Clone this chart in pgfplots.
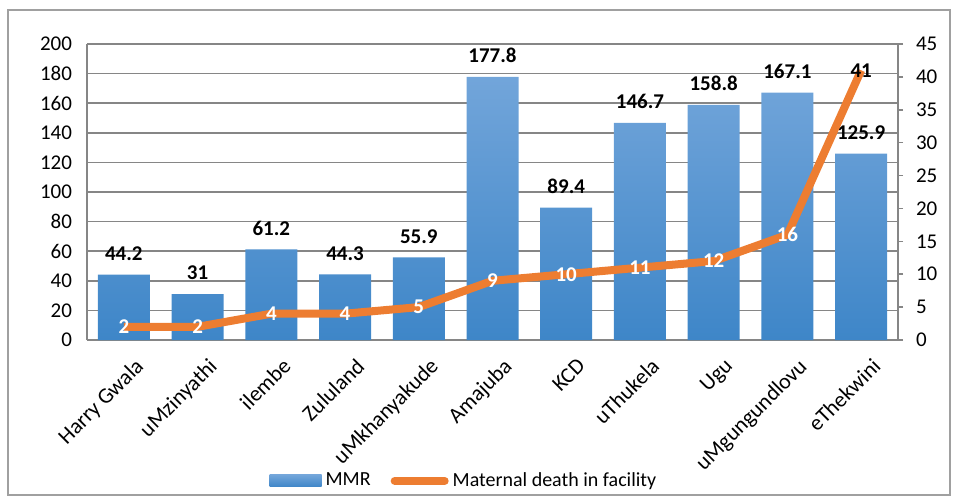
\documentclass[border=0pt]{standalone}
\usepackage{pgfplots}
\pgfplotsset{compat=1.18}
\usepackage{fontspec}
\setmainfont{Carlito}
\definecolor{barTop}{RGB}{114,165,218}
\definecolor{barBot}{RGB}{62,134,200}
\definecolor{lineOr}{RGB}{237,125,49}
\definecolor{gridc}{RGB}{134,134,134}
\definecolor{framec}{RGB}{160,160,160}

\pgfplotstableread{
idx mmr deaths
0 44.2 2
1 31 2
2 61.2 4
3 44.3 4
4 55.9 5
5 177.8 9
6 89.4 10
7 146.7 11
8 158.8 12
9 167.1 16
10 125.9 41
}\data

\begin{document}
\begin{tikzpicture}
  \path[use as bounding box] (0,0) rectangle (476.5pt,249pt);
  \draw[framec, line width=0.6pt] (4pt,1.5pt) rectangle (475pt,244pt);
  \begin{axis}[
    at={(43.5pt,79pt)}, anchor=south west, scale only axis,
    width=405.5pt, height=148pt,
    xmin=-0.5, xmax=10.5, ymin=0, ymax=200,
    ytick={0,20,...,200}, xtick={0,...,10},
    xticklabels={Harry Gwala,uMzinyathi,ilembe,Zululand,uMkhanyakude,Amajuba,KCD,uThukela,Ugu,uMgungundlovu,eThekwini},
    xticklabel style={rotate=45, anchor=north east, xshift=1pt, yshift=-6pt, font=\fontsize{11}{13}\selectfont},
    yticklabel style={xshift=-4pt, font=\fontsize{10.5}{12}\selectfont},
    axis x line*=bottom, axis y line*=left,
    axis line style={gridc, line width=0.8pt},
    ymajorgrids, grid style={gridc, line width=0.8pt},
    major tick length=0pt,
    /pgf/number format/assume math mode=true,
    ybar, bar width=26pt,
    nodes near coords,
    every node near coord/.append style={font=\fontsize{10.5}{12}\bfseries, text=black, yshift=3.5pt},
    clip=false,
  ]
    \addplot[draw=none, top color=barTop, bottom color=barBot] table[x=idx,y=mmr]{\data};
  \end{axis}
  \begin{axis}[
    at={(43.5pt,79pt)}, anchor=south west, scale only axis,
    width=405.5pt, height=148pt,
    xmin=-0.5, xmax=10.5, ymin=0, ymax=45,
    ytick={0,5,...,45},
    axis x line=none, axis y line*=right,
    axis line style={gridc, line width=0.8pt},
    ytick style={gridc, line width=0.8pt},
    tick align=outside, major tick length=2.5pt,
    yticklabel style={xshift=3pt, font=\fontsize{10.5}{12}\selectfont},
    /pgf/number format/assume math mode=true,
    clip=false,
    legend style={at={(0.466,-0.476)}, anchor=center, draw=none, fill=none,
      legend columns=2, font=\fontsize{10}{12}\selectfont,
      /tikz/every even column/.append style={column sep=8pt}},
  ]
    \addlegendimage{legend image code/.code={\shade[draw=none, top color=barTop, bottom color=barBot] (0pt,-3pt) rectangle (26pt,3pt);}}
    \addlegendentry{MMR}
    \addlegendimage{legend image code/.code={\draw[lineOr, line width=4pt, line cap=round] (1pt,0pt) -- (26pt,0pt);}}
    \addlegendentry{Maternal death in facility}
    \addplot[lineOr, line width=4pt, forget plot] table[x=idx,y=deaths]{\data};
    % value labels on the line: white, the last one black
    \addplot[draw=none, forget plot, skip coords between index={10}{11},
      nodes near coords,
      every node near coord/.style={anchor=center, text=white, font=\fontsize{10.5}{12}\bfseries}]
      table[x=idx,y=deaths]{\data};
    \addplot[draw=none, forget plot, skip coords between index={0}{10},
      nodes near coords,
      every node near coord/.style={anchor=center, text=black, font=\fontsize{10.5}{12}\bfseries}]
      table[x=idx,y=deaths]{\data};
  \end{axis}
\end{tikzpicture}
\end{document}
